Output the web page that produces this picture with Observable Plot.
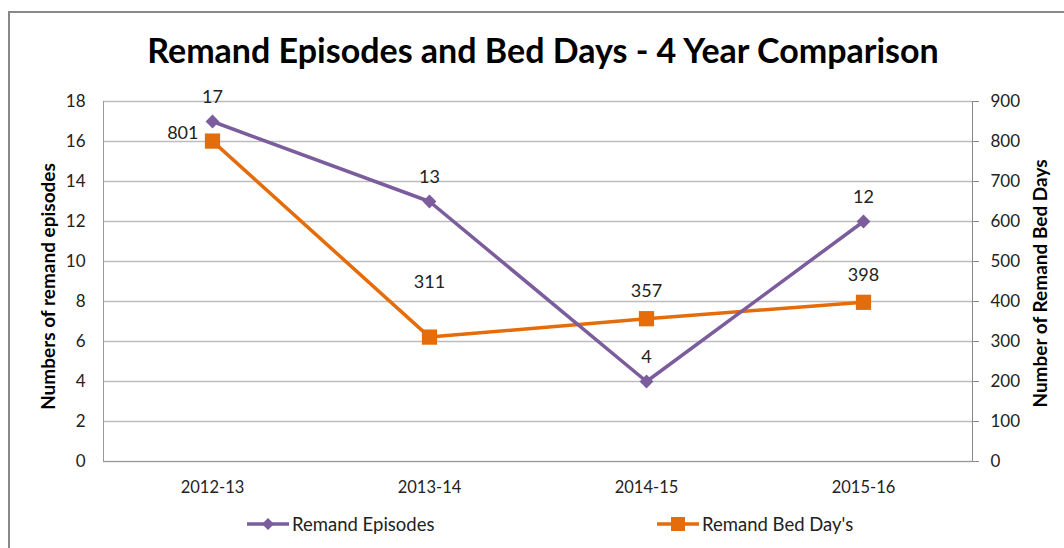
<!DOCTYPE html>
<html><head><meta charset="utf-8">
<script src="https://cdn.jsdelivr.net/npm/d3@7"></script>
<script src="https://cdn.jsdelivr.net/npm/@observablehq/plot@0.6"></script>
<style>
html,body{margin:0;padding:0;background:#fff;overflow:hidden}
#wrap{position:relative;width:1064px;height:548px;overflow:hidden;font-family:Lato,"Open Sans",sans-serif}
#frame{position:absolute;left:8px;top:11px;width:1100px;height:600px;border:2px solid #888;box-sizing:border-box}
#title{position:absolute;left:0;width:1086px;top:29px;text-align:center;font-weight:bold;font-size:34px;line-height:41px;color:#000}
#chart{position:absolute;left:0;top:0}
.leg{position:absolute;top:513px;height:22px;font-size:18.5px;line-height:22px;color:#222;display:flex;align-items:center}
.leg svg{margin-right:2px}
</style></head>
<body><div id="wrap"><div id="frame"></div><div id="title">Remand Episodes and Bed Days - 4 Year Comparison</div><div id="chart"></div>
<div class="leg" id="leg1" style="left:246px"></div><div class="leg" id="leg2" style="left:656px"></div></div>
<script>
const years = ["2012-13","2013-14","2014-15","2015-16"];
const episodes = [17,13,4,12];
const bedDays = [801,311,357,398];
const leftTicks = [0,2,4,6,8,10,12,14,16,18];
const rightTicks = [0,100,200,300,400,500,600,700,800,900];
const purple = "#7B5C9C", orange = "#E46C0A";
const ratio = 50;

const ep = years.map((y,i)=>({year:y, v:episodes[i]}));
const bd = years.map((y,i)=>({year:y, v:bedDays[i], s:bedDays[i]/ratio}));
const font = "Lato, 'Open Sans', sans-serif";

const chart = Plot.plot({
  width:1064, height:548,
  marginTop:101, marginBottom:87, marginLeft:103, marginRight:92,
  style:{fontFamily:font, fontSize:"17px", color:"#222", background:"transparent"},
  x:{type:"point", domain:years, padding:0.5},
  y:{domain:[0,18]},
  marks:[
    Plot.gridY(leftTicks, {stroke:"#BDBDBD", strokeOpacity:1, strokeWidth:1.3}),
    Plot.axisY(leftTicks, {anchor:"left", tickSize:0, tickPadding:18, label:null, fontSize:17}),
    Plot.axisY(leftTicks, {anchor:"right", tickSize:6, tickPadding:12, stroke:"#888", label:null, fontSize:17, tickFormat:(d,i)=>String(rightTicks[i])}),
    Plot.axisX({anchor:"bottom", tickSize:0, tickPadding:20, label:null, fontSize:16.5}),
    Plot.frame({anchor:"left", stroke:"#999"}),
    Plot.frame({anchor:"right", stroke:"#888"}),
    Plot.frame({anchor:"bottom", stroke:"#999"}),
    Plot.text(["Numbers of remand episodes"], {frameAnchor:"left", dx:-55, dy:5, rotate:-90, textAnchor:"middle", fontWeight:"bold", fontSize:19, fill:"#000"}),
    Plot.text(["Number of Remand Bed Days"], {frameAnchor:"right", dx:68, dy:2, rotate:-90, textAnchor:"middle", fontWeight:"bold", fontSize:19, fill:"#000"}),
    Plot.line(bd, {x:"year", y:"s", stroke:orange, strokeWidth:3.5}),
    Plot.line(ep, {x:"year", y:"v", stroke:purple, strokeWidth:3.5}),
    Plot.dot(bd, {x:"year", y:"s", symbol:"square", r:8.6, fill:orange}),
    Plot.dot(ep, {x:"year", y:"v", symbol:"diamond2", r:6.2, fill:purple}),
    Plot.text(ep, {x:"year", y:"v", text:d=>String(d.v), dy:-24, fontSize:18, fill:"#222"}),
    Plot.text(bd.filter((d,i)=>i===0), {x:"year", y:"s", text:d=>String(d.v), dx:-14, dy:-8, textAnchor:"end", fontSize:18, fill:"#222"}),
    Plot.text(bd.filter((d,i)=>i===1), {x:"year", y:"s", text:d=>String(d.v), dy:-55, fontSize:18, fill:"#222"}),
    Plot.text(bd.filter((d,i)=>i>1), {x:"year", y:"s", text:d=>String(d.v), dy:-27, fontSize:18, fill:"#222"})
  ]
});
document.getElementById("chart").appendChild(chart);

function legend(el, color, sym, label){
  const s = d3.select(el).append("svg").attr("width",44).attr("height",20);
  s.append("line").attr("x1",1).attr("x2",43).attr("y1",10).attr("y2",10).attr("stroke",color).attr("stroke-width",3.5);
  if(sym==="d") s.append("path").attr("d","M22,4L28,10L22,16L16,10Z").attr("fill",color);
  else s.append("rect").attr("x",15).attr("y",3).attr("width",14).attr("height",14).attr("fill",color);
  d3.select(el).append("span").text(label);
}
legend(document.getElementById("leg1"), purple, "d", "Remand Episodes");
legend(document.getElementById("leg2"), orange, "s", "Remand Bed Day's");
</script></body></html>
